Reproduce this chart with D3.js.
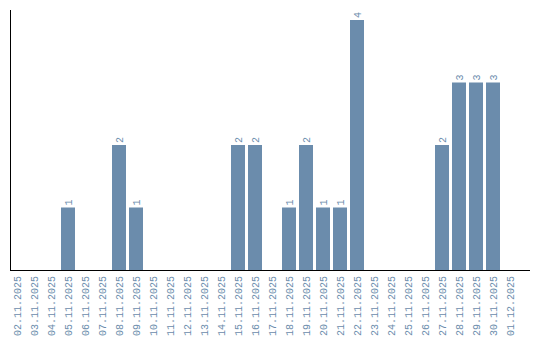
<!DOCTYPE html>
<html>
<head>
<meta charset="utf-8">
<script src="https://cdn.jsdelivr.net/npm/d3@7"></script>
<style>
  body { margin: 0; background: #fff; }
  svg text { font-family: "Liberation Mono", monospace; }
</style>
</head>
<body>
<svg id="chart" width="540" height="340"></svg>
<script>
const dates = [
  "02.11.2025", "03.11.2025", "04.11.2025", "05.11.2025", "06.11.2025",
  "07.11.2025", "08.11.2025", "09.11.2025", "10.11.2025", "11.11.2025",
  "12.11.2025", "13.11.2025", "14.11.2025", "15.11.2025", "16.11.2025",
  "17.11.2025", "18.11.2025", "19.11.2025", "20.11.2025", "21.11.2025",
  "22.11.2025", "23.11.2025", "24.11.2025", "25.11.2025", "26.11.2025",
  "27.11.2025", "28.11.2025", "29.11.2025", "30.11.2025", "01.12.2025"
];
const counts = [0, 0, 0, 1, 0, 0, 2, 1, 0, 0, 0, 0, 0, 2, 2, 0, 1, 2, 1, 1, 4, 0, 0, 0, 0, 2, 3, 3, 3, 0];

const barColor = "#6b8cac";
const svg = d3.select("#chart");

const x = d3.scaleBand()
  .domain(dates)
  .range([10, 517])
  .paddingInner(3 / 17)
  .paddingOuter(0);

const y = d3.scaleLinear()
  .domain([0, d3.max(counts) * 1.04])
  .range([270, 10]);

const data = dates.map((d, i) => ({ date: d, value: counts[i] }));

// bars
svg.append("g")
  .selectAll("rect")
  .data(data.filter(d => d.value > 0))
  .enter()
  .append("rect")
  .attr("x", d => x(d.date))
  .attr("y", d => y(d.value))
  .attr("width", x.bandwidth())
  .attr("height", d => y(0) - y(d.value))
  .attr("fill", barColor);

// value labels
svg.append("g")
  .selectAll("text")
  .data(data.filter(d => d.value > 0))
  .enter()
  .append("text")
  .attr("transform", d => `translate(${x(d.date) + x.bandwidth() / 2 + 3.5},${y(d.value) - 2}) rotate(-90)`)
  .attr("text-anchor", "start")
  .attr("font-size", "10px")
  .attr("fill", barColor)
  .text(d => d.value);

// x tick labels
svg.append("g")
  .selectAll("text")
  .data(dates)
  .enter()
  .append("text")
  .attr("transform", d => `translate(${x(d) + x.bandwidth() / 2 + 3.5},276) rotate(-90)`)
  .attr("text-anchor", "end")
  .attr("font-size", "10px")
  .attr("fill", barColor)
  .text(d => d);

// axes lines
svg.append("line")
  .attr("x1", 10.5).attr("x2", 10.5)
  .attr("y1", 10).attr("y2", 270)
  .attr("stroke", "#000");

svg.append("line")
  .attr("x1", 10).attr("x2", 530)
  .attr("y1", 270.5).attr("y2", 270.5)
  .attr("stroke", "#000");
</script>
</body>
</html>
